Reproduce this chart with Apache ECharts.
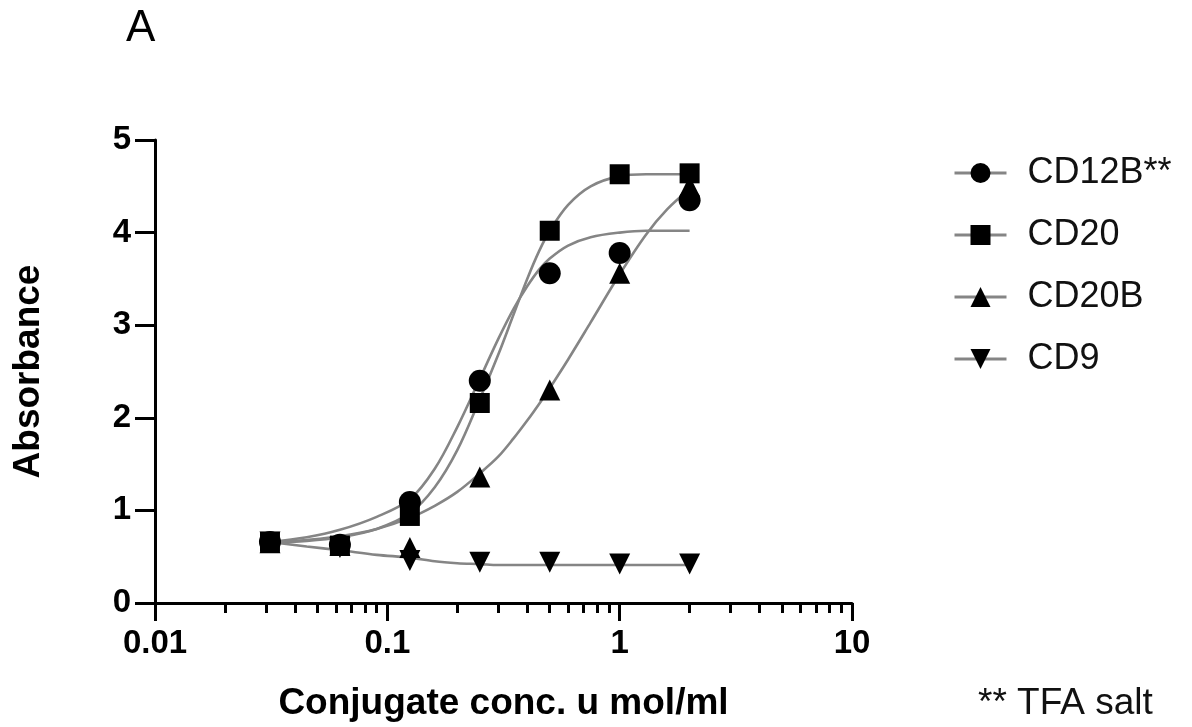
<!DOCTYPE html>
<html>
<head>
<meta charset="utf-8">
<script src="https://cdn.jsdelivr.net/npm/echarts@6/dist/echarts.min.js"></script>
<style>
  html, body { margin: 0; padding: 0; background: #fff; }
  #chart { width: 1192px; height: 727px; }
</style>
</head>
<body>
<div id="chart"></div>
<script>
// Measured concentrations (u mol/ml) and absorbance readings
const concentrations = [0.03125, 0.0625, 0.125, 0.25, 0.5, 1, 2];
const cd12bPoints = [0.66, 0.63, 1.09, 2.40, 3.56, 3.78, 4.35];
const cd20Points  = [0.66, 0.62, 0.94, 2.16, 4.02, 4.63, 4.64];
const cd20bPoints = [0.65, 0.62, 0.60, 1.36, 2.30, 3.56, 4.50];
const cd9Points   = [0.66, 0.60, 0.46, 0.44, 0.44, 0.42, 0.42];

// Fitted dose-response curves, sampled along the concentration range
const fitConc = [0.03125, 0.045, 0.0625, 0.09, 0.125, 0.16, 0.2, 0.25, 0.3, 0.35, 0.4, 0.45, 0.5, 0.6, 0.75, 1, 1.3, 1.6, 2];
const cd12bFit = [0.66, 0.71, 0.79, 0.93, 1.12, 1.45, 1.90, 2.42, 2.85, 3.18, 3.42, 3.60, 3.72, 3.86, 3.95, 4.00, 4.02, 4.02, 4.02];
const cd20Fit  = [0.65, 0.67, 0.71, 0.80, 0.97, 1.25, 1.65, 2.20, 2.68, 3.12, 3.50, 3.80, 4.02, 4.30, 4.50, 4.61, 4.63, 4.63, 4.63];
const cd20bFit = [0.65, 0.68, 0.72, 0.80, 0.92, 1.05, 1.20, 1.40, 1.58, 1.78, 1.97, 2.15, 2.32, 2.63, 3.03, 3.55, 3.98, 4.25, 4.47];
const cd9Fit   = [0.66, 0.61, 0.57, 0.52, 0.49, 0.45, 0.43, 0.42, 0.41, 0.41, 0.41, 0.41, 0.41, 0.41, 0.41, 0.41, 0.41, 0.41, 0.41];

const seriesNames = ['CD12B**', 'CD20', 'CD20B', 'CD9'];
const yTicks = [0, 1, 2, 3, 4, 5];
const xMajorTicks = [0.01, 0.1, 1, 10];
const minorMultipliers = [2, 3, 4, 5, 6, 7, 8, 9];

// Minor tick positions inside each decade of the log axis
const xMinorTicks = [];
xMajorTicks.slice(0, -1).forEach(function (d) {
  minorMultipliers.forEach(function (m) { xMinorTicks.push(+(d * m).toPrecision(3)); });
});

const FONT = 'Liberation Sans, Arial, sans-serif';
const CURVE = '#858585';

function pairs(xs, ys) { return xs.map(function (x, i) { return [x, ys[i]]; }); }

const markers = [
  { name: seriesNames[0], pts: cd12bPoints, fit: cd12bFit, symbol: 'circle', size: 22, rotate: 0, z: 6 },
  { name: seriesNames[1], pts: cd20Points,  fit: cd20Fit,  symbol: 'rect', size: 20, rotate: 0, z: 6 },
  { name: seriesNames[2], pts: cd20bPoints, fit: cd20bFit, symbol: 'triangle', size: 21, rotate: 0, z: 4 },
  { name: seriesNames[3], pts: cd9Points,   fit: cd9Fit,   symbol: 'triangle', size: 21, rotate: 180, z: 5 }
];

const series = [];
markers.forEach(function (m) {
  series.push({
    name: m.name + ' fit',
    type: 'line',
    data: pairs(fitConc, m.fit),
    smooth: 0.35,
    showSymbol: false,
    silent: true,
    z: 2,
    lineStyle: { color: CURVE, width: 2.6 }
  });
});
markers.forEach(function (m) {
  series.push({
    name: m.name,
    type: 'line',
    data: pairs(concentrations, m.pts),
    symbol: m.symbol,
    symbolSize: m.size,
    symbolRotate: m.rotate,
    showSymbol: true,
    z: m.z,
    itemStyle: { color: '#000', borderWidth: 0 },
    lineStyle: { color: CURVE, width: 2.6, opacity: 0 }
  });
});

const chart = echarts.init(document.getElementById('chart'), null, { renderer: 'canvas' });
chart.setOption({
  animation: false,
  backgroundColor: '#fff',
  title: [
    { text: 'A', left: 121, top: 2, textStyle: { fontFamily: FONT, fontSize: 44, fontWeight: 'normal', color: '#000' } },
    { text: '** TFA salt', left: 973, top: 680, textStyle: { fontFamily: FONT, fontSize: 37, fontWeight: 'normal', color: '#111' } }
  ],
  grid: { left: 155, top: 140, width: 697, height: 463, containLabel: false },
  legend: {
    orient: 'vertical',
    left: 948,
    top: 150,
    itemWidth: 52,
    itemHeight: 25,
    itemGap: 26,
    data: seriesNames,
    textStyle: { fontFamily: FONT, fontSize: 36, color: '#111', padding: [0, 0, 0, 16] },
    lineStyle: { color: CURVE, width: 3, opacity: 1 }
  },
  xAxis: [
    {
      type: 'log',
      logBase: 10,
      min: 0.01,
      max: 10,
      name: 'Conjugate conc. u mol/ml',
      nameLocation: 'middle',
      nameGap: 82,
      nameTextStyle: { fontFamily: FONT, fontSize: 37, fontWeight: 'bold', color: '#000' },
      axisLine: { show: true, lineStyle: { color: '#000', width: 3 } },
      axisTick: { show: true, inside: false, length: 18, lineStyle: { color: '#000', width: 3 }, customValues: xMajorTicks },
      axisLabel: {
        customValues: xMajorTicks,
        margin: 24,
        fontFamily: FONT, fontSize: 33, fontWeight: 'bold', color: '#000',
        formatter: function (v) { return String(+v.toPrecision(3)); }
      },
      splitLine: { show: false },
      minorTick: { show: false }
    },
    {
      type: 'log',
      logBase: 10,
      min: 0.01,
      max: 10,
      position: 'bottom',
      axisLine: { show: false },
      axisTick: { show: true, inside: false, length: 10, lineStyle: { color: '#000', width: 3 }, customValues: xMinorTicks },
      axisLabel: { show: false },
      splitLine: { show: false }
    }
  ],
  yAxis: {
    type: 'value',
    min: yTicks[0],
    max: yTicks[yTicks.length - 1],
    interval: 1,
    name: 'Absorbance',
    nameLocation: 'middle',
    nameGap: 108,
    nameTextStyle: { fontFamily: FONT, fontSize: 37, fontWeight: 'bold', color: '#000' },
    axisLine: { show: true, lineStyle: { color: '#000', width: 3 } },
    axisTick: { show: true, inside: false, length: 20, lineStyle: { color: '#000', width: 3 } },
    axisLabel: { margin: 24, fontFamily: FONT, fontSize: 33, fontWeight: 'bold', color: '#000' },
    splitLine: { show: false }
  },
  series: series
});
</script>
</body>
</html>
